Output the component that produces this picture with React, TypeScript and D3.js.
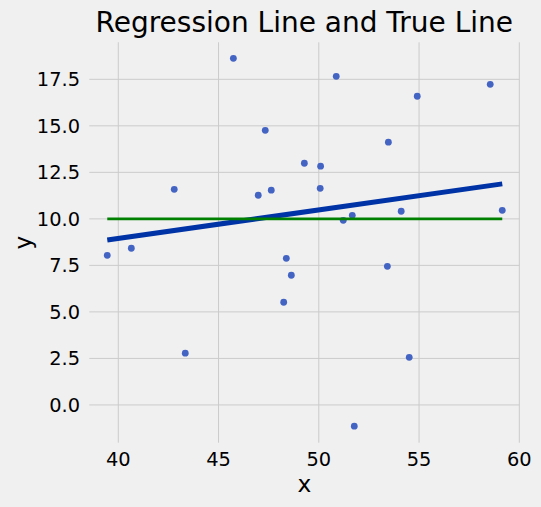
import React from "react";
import * as d3 from "d3";

// scatter sample
const xs = [45.74, 50.87, 47.33, 49.28, 50.09, 42.79, 46.98, 47.63, 50.07, 39.45, 40.65, 48.38, 58.55, 54.91, 53.47, 54.11, 59.15, 51.22, 51.67, 53.42, 48.63, 48.25, 43.34, 54.51, 51.77];
const ys = [18.63, 17.66, 14.76, 12.99, 12.83, 11.59, 11.27, 11.54, 11.64, 8.04, 8.42, 7.88, 17.23, 16.59, 14.12, 10.41, 10.46, 9.92, 10.19, 7.45, 6.97, 5.52, 2.78, 2.56, -1.14];

// fitted line and true line
const fitIntercept = 2.83;
const fitSlope = 0.153;
const trueIntercept = 10;
const trueSlope = 0;

const xTicks = [40, 45, 50, 55, 60];
const yTicks = [0, 2.5, 5, 7.5, 10, 12.5, 15, 17.5];

const W = 541;
const H = 507;
const FONT = "'DejaVu Sans', sans-serif";

export default function App() {
  const x = d3.scaleLinear().domain([38.554, 60.0]).range([89.3, 519.3]);
  const y = d3.scaleLinear().domain([-2.03, 19.49]).range([442.7, 42.3]);

  const [x0, x1] = d3.extent(xs) as [number, number];

  // straight line a + b*x drawn across the data's x range
  const mk = (a: number, b: number) =>
    d3
      .line<number>()
      .x((d) => x(d))
      .y((d) => y(a + b * d))([x0, x1]);

  const [r0, r1] = x.range();
  const [b0, t0] = y.range();

  return (
    <div style={{ position: "fixed", left: 0, top: 0 }}>
      <svg width={W} height={H} style={{ display: "block", background: "#f0f0f0" }}>
        <rect width={W} height={H} fill="#f0f0f0" />
        {/* grid */}
        <g stroke="#cbcbcb" strokeWidth={1}>
          {xTicks.map((t) => (
            <line key={t} x1={x(t)} x2={x(t)} y1={t0} y2={b0} />
          ))}
          {yTicks.map((t) => (
            <line key={t} x1={r0} x2={r1} y1={y(t)} y2={y(t)} />
          ))}
        </g>
        {/* tick labels */}
        <g fontFamily={FONT} fontSize={19.4} fill="#000">
          {xTicks.map((t) => (
            <text key={t} x={x(t)} y={465.5} textAnchor="middle">
              {t}
            </text>
          ))}
          {yTicks.map((t) => (
            <text key={t} x={80} y={y(t) + 7} textAnchor="end">
              {d3.format(".1f")(t)}
            </text>
          ))}
        </g>
        {/* points */}
        <g fill="#4464c4">
          {xs.map((d, i) => (
            <circle key={i} cx={x(d)} cy={y(ys[i])} r={3.4} />
          ))}
        </g>
        <path d={mk(fitIntercept, fitSlope) ?? ""} stroke="#0033a6" strokeWidth={5} fill="none" />
        <path d={mk(trueIntercept, trueSlope) ?? ""} stroke="#008000" strokeWidth={2.8} fill="none" />
        {/* labels */}
        <text x={(r0 + r1) / 2} y={32.3} textAnchor="middle" fontFamily={FONT} fontSize={28} fill="#000">
          Regression Line and True Line
        </text>
        <text x={(r0 + r1) / 2} y={492} textAnchor="middle" fontFamily={FONT} fontSize={23.3} fill="#000">
          x
        </text>
        <text
          transform={`translate(31,${(t0 + b0) / 2}) rotate(-90)`}
          textAnchor="middle"
          fontFamily={FONT}
          fontSize={23.3}
          fill="#000"
        >
          y
        </text>
      </svg>
    </div>
  );
}
